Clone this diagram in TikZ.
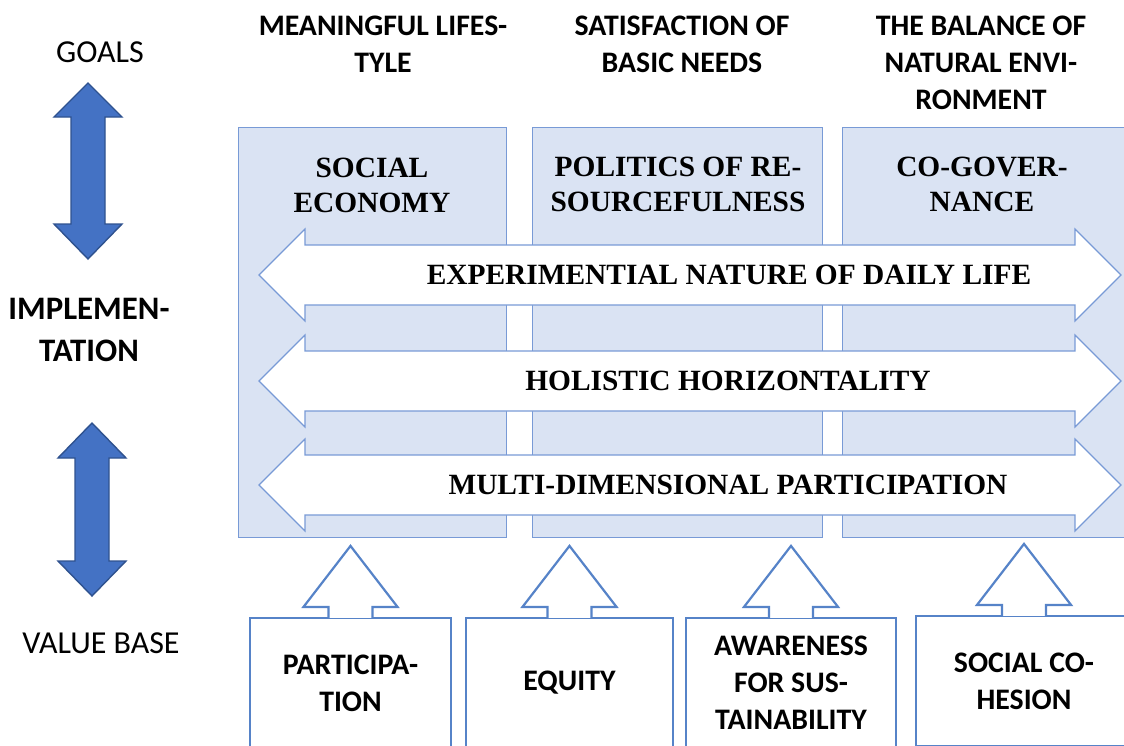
\documentclass[tikz,border=0pt]{standalone}
\usepackage{fontspec}
\setmainfont{Liberation Serif}
\newfontfamily\labelfont{Carlito}
\usepackage{tikz}

\definecolor{colfill}{RGB}{218,227,243}
\definecolor{colline}{RGB}{120,154,214}
\definecolor{boxline}{RGB}{86,131,200}
\definecolor{arrowblue}{RGB}{68,114,196}
\definecolor{arrowedge}{RGB}{47,82,143}

\begin{document}
\begin{tikzpicture}[x=0.5pt, y=-0.5pt,
    colbox/.style={fill=colfill, draw=colline, line width=0.5pt},
    band/.style={fill=white, draw=colline, line width=0.6pt},
    bandtext/.style={font=\fontsize{14.7}{17}\selectfont\bfseries},
    coltitle/.style={align=center, font=\fontsize{14.7}{17.5}\selectfont\bfseries},
    goal/.style={align=center, font=\labelfont\fontsize{14.9}{18.5}\selectfont\bfseries},
    side/.style={align=center, font=\labelfont\fontsize{16}{21}\selectfont},
    updown/.style={fill=arrowblue, draw=arrowedge, line width=0.7pt},
    valbox/.style={draw=boxline, fill=white, line width=1.1pt, minimum height=65pt,
        align=center, font=\labelfont\fontsize{14.9}{18.5}\selectfont\bfseries},
    valarrow/.style={fill=white, draw=boxline, line width=1.1pt}]
    \useasboundingbox (0,0) rectangle (1124,745);
    \clip (0,0) rectangle (1124,745);

    % columns
    \draw[colbox] (238,127) rectangle (506,537);
    \draw[colbox] (532,127) rectangle (822,537);
    \draw[colbox] (842,127) rectangle (1134,537);
    \node[coltitle] (socecon) at (372,185) {SOCIAL\\ECONOMY};
    \node[coltitle] (politics) at (678,184) {POLITICS OF RE-\\SOURCEFULNESS};
    \node[coltitle] (cogov) at (982,184) {CO-GOVER-\\NANCE};

    % goals
    \node[goal] (lifestyle) at (383,44) {MEANINGFUL LIFES-\\TYLE};
    \node[goal] (needs) at (682,44) {SATISFACTION OF\\BASIC NEEDS};
    \node[goal] (balance) at (981,63) {THE BALANCE OF\\NATURAL ENVI-\\RONMENT};

    % horizontal bands
    \draw[band] (259,275) -- ++(46,-46) -- ++(0,16) -- ++(770,0) -- ++(0,-16) -- ++(46,46)
        -- ++(-46,46) -- ++(0,-16) -- ++(-770,0) -- ++(0,16) -- cycle;
    \draw[band] (259,381) -- ++(46,-46) -- ++(0,16) -- ++(770,0) -- ++(0,-16) -- ++(46,46)
        -- ++(-46,46) -- ++(0,-16) -- ++(-770,0) -- ++(0,16) -- cycle;
    \draw[band] (259,485) -- ++(46,-46) -- ++(0,16) -- ++(770,0) -- ++(0,-16) -- ++(46,46)
        -- ++(-46,46) -- ++(0,-16) -- ++(-770,0) -- ++(0,16) -- cycle;
    \node[bandtext] (daily) at (729,275) {EXPERIMENTIAL NATURE OF DAILY LIFE};
    \node[bandtext] (holistic) at (728,381) {HOLISTIC HORIZONTALITY};
    \node[bandtext] (multi) at (728,485) {MULTI-DIMENSIONAL PARTICIPATION};

    % left side
    \draw[updown] (88,83) -- ++(34,34) -- ++(-17,0) -- ++(0,107) -- ++(17,0) -- ++(-34,35)
        -- ++(-34,-35) -- ++(17,0) -- ++(0,-107) -- ++(-17,0) -- cycle;
    \draw[updown] (92,423) -- ++(34,35) -- ++(-17,0) -- ++(0,103) -- ++(17,0) -- ++(-34,35)
        -- ++(-34,-35) -- ++(17,0) -- ++(0,-103) -- ++(-17,0) -- cycle;
    \node[side] (goals) at (100,52) {GOALS};
    \node[side, font=\labelfont\fontsize{16.4}{21}\selectfont\bfseries] (impl) at (89,330) {IMPLEMEN-\\TATION};
    \node[side] (valuebase) at (101,643) {VALUE BASE};

    % value base
    \node[valbox, minimum width=100.5pt] (v1) at (350.5,683) {PARTICIPA-\\TION};
    \node[valbox, minimum width=103.5pt] (v2) at (569.5,683) {EQUITY};
    \node[valbox, minimum width=105pt] (v3) at (791,683) {AWARENESS\\FOR SUS-\\TAINABILITY};
    \node[valbox, minimum width=108pt] (v4) at (1024,681) {SOCIAL CO-\\HESION};
    \filldraw[valarrow] (v1.north) ++(-22,1) -- ++(0,-11) -- ++(-25,0) -- ++(47,-61) -- ++(47,61) -- ++(-25,0) -- ++(0,11);
    \filldraw[valarrow] (v2.north) ++(-22,1) -- ++(0,-11) -- ++(-25,0) -- ++(47,-61) -- ++(47,61) -- ++(-25,0) -- ++(0,11);
    \filldraw[valarrow] (v3.north) ++(-22,1) -- ++(0,-11) -- ++(-25,0) -- ++(47,-61) -- ++(47,61) -- ++(-25,0) -- ++(0,11);
    \filldraw[valarrow] (v4.north) ++(-22,1) -- ++(0,-11) -- ++(-25,0) -- ++(47,-61) -- ++(47,61) -- ++(-25,0) -- ++(0,11);
\end{tikzpicture}
\end{document}
